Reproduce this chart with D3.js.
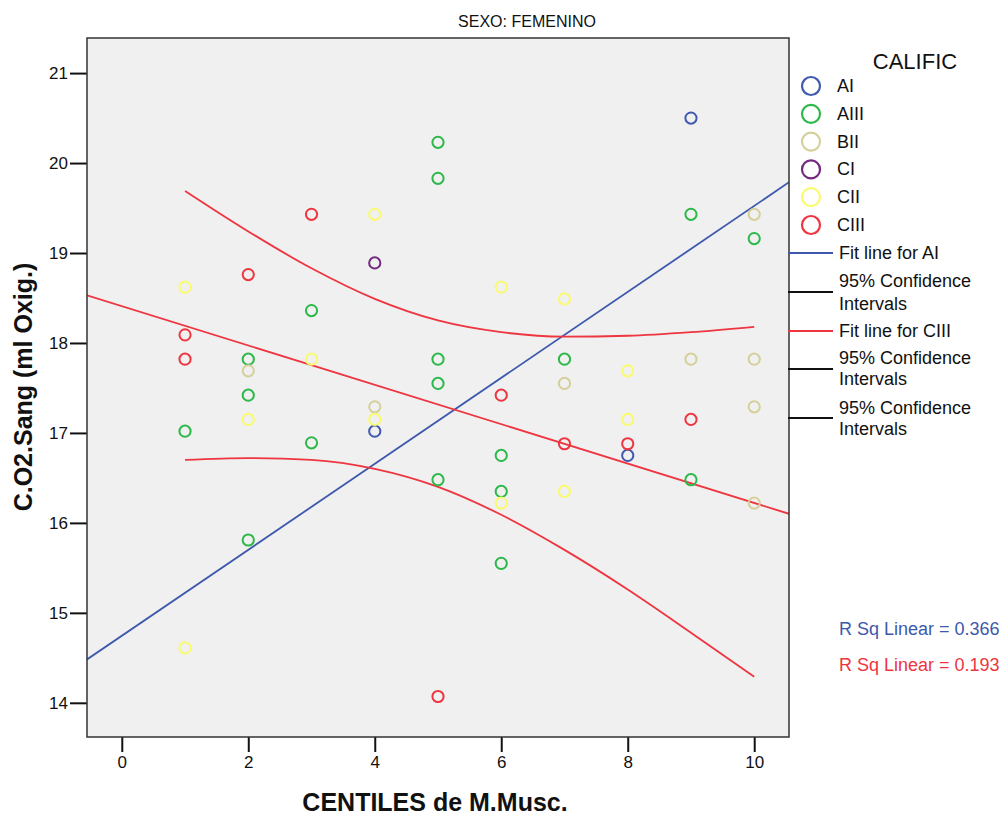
<!DOCTYPE html>
<html>
<head>
<meta charset="utf-8">
<script src="https://cdn.jsdelivr.net/npm/d3@7"></script>
<style>
  body { margin: 0; background: #fff; }
  text { font-family: Arial, "Liberation Sans", sans-serif; fill: #111; }
</style>
</head>
<body>
<svg width="1007" height="818"></svg>
<script>
// points per CALIFIC group: centile (x) and C.O2.Sang (y)
const groups = ["AI", "AIII", "BII", "CI", "CII", "CIII"];
const groupColors = ["#3f5ab0", "#2db84a", "#d5cf9a", "#74287f", "#fafa6e", "#ee3540"];

const aiX = [4, 8, 9];
const aiY = [17.02, 16.75, 20.50];
const aiiiX = [1, 2, 2, 2, 3, 3, 5, 5, 5, 5, 5, 6, 6, 6, 7, 9, 9, 10];
const aiiiY = [17.02, 17.82, 17.42, 15.81, 18.36, 16.89, 20.23, 19.83, 17.82, 17.55, 16.48, 16.75, 16.35, 15.55, 17.82, 19.43, 16.48, 19.16];
const biiX = [2, 4, 7, 9, 10, 10, 10, 10];
const biiY = [17.69, 17.29, 17.55, 17.82, 19.43, 17.82, 17.29, 16.22];
const ciX = [4];
const ciY = [18.89];
const ciiX = [1, 1, 2, 3, 4, 4, 6, 6, 7, 7, 8, 8];
const ciiY = [18.62, 14.61, 17.15, 17.82, 19.43, 17.15, 18.62, 16.22, 18.49, 16.35, 17.69, 17.15];
const ciiiX = [1, 1, 2, 3, 5, 6, 7, 8, 9];
const ciiiY = [18.09, 17.82, 18.76, 19.43, 14.07, 17.42, 16.88, 16.88, 17.15];

// 95% confidence band of the CIII fit
const bandX = [1, 2, 3, 4, 5, 6, 7, 8, 9, 10];
const bandUpper = [19.69, 19.24, 18.83, 18.49, 18.25, 18.12, 18.07, 18.08, 18.12, 18.18];
const bandLower = [16.70, 16.72, 16.70, 16.60, 16.40, 16.09, 15.70, 15.26, 14.78, 14.29];

const xTicks = [0, 2, 4, 6, 8, 10];
const yTicks = [14, 15, 16, 17, 18, 19, 20, 21];
const rSqLabels = ["0.366", "0.193"];

const groupX = [aiX, aiiiX, biiX, ciX, ciiX, ciiiX];
const groupY = [aiY, aiiiY, biiY, ciY, ciiY, ciiiY];

const svg = d3.select("svg");
const plotL = 87, plotR = 789, plotT = 38, plotB = 737;

const x = d3.scaleLinear().domain([-0.55, 10.55]).range([plotL, plotR]);
const y = d3.scaleLinear().domain([13.62, 21.39]).range([plotB, plotT]);

svg.append("defs").append("clipPath").attr("id", "plotclip")
  .append("rect")
  .attr("x", plotL).attr("y", plotT)
  .attr("width", plotR - plotL).attr("height", plotB - plotT);

svg.append("rect")
  .attr("x", plotL).attr("y", plotT)
  .attr("width", plotR - plotL).attr("height", plotB - plotT)
  .attr("fill", "#f0f0f0");

// axes
const xAxis = svg.append("g")
  .attr("transform", `translate(0,${plotB})`)
  .call(d3.axisBottom(x).tickValues(xTicks).tickSize(15).tickPadding(4));
const yAxis = svg.append("g")
  .attr("transform", `translate(${plotL},0)`)
  .call(d3.axisLeft(y).tickValues(yTicks).tickSize(17).tickPadding(2));

[xAxis, yAxis].forEach(a => {
  a.select(".domain").remove();
  a.selectAll(".tick line").attr("stroke", "#111").attr("stroke-width", 2);
  a.selectAll(".tick text")
    .attr("font-size", "17px")
    .attr("font-family", "Arial, 'Liberation Sans', sans-serif")
    .attr("fill", "#111");
});

// least squares fit from the points
function fit(xs, ys) {
  const mx = d3.mean(xs), my = d3.mean(ys);
  const sxy = d3.sum(xs, (v, i) => (v - mx) * (ys[i] - my));
  const sxx = d3.sum(xs, v => (v - mx) ** 2);
  const b = sxy / sxx;
  return { a: my - b * mx, b: b };
}

const plot = svg.append("g").attr("clip-path", "url(#plotclip)");

const line = d3.line().x(d => x(d[0])).y(d => y(d[1]));

const fits = [
  { f: fit(aiX, aiY), color: "#3d58ac" },
  { f: fit(ciiiX, ciiiY), color: "#ee3540" }
];

fits.forEach(d => {
  const ends = x.domain().map(v => [v, d.f.a + d.f.b * v]);
  plot.append("path")
    .attr("d", line(ends))
    .attr("fill", "none")
    .attr("stroke", d.color)
    .attr("stroke-width", 1.8);
});

const bandLine = d3.line()
  .x(d => x(d[0])).y(d => y(d[1]))
  .curve(d3.curveMonotoneX);

[bandUpper, bandLower].forEach(vals => {
  plot.append("path")
    .attr("d", bandLine(bandX.map((v, i) => [v, vals[i]])))
    .attr("fill", "none")
    .attr("stroke", "#ee3540")
    .attr("stroke-width", 1.8);
});

// points
groups.forEach((g, gi) => {
  plot.selectAll(null)
    .data(groupX[gi].map((v, i) => [v, groupY[gi][i]]))
    .enter()
    .append("circle")
    .attr("cx", d => x(d[0]))
    .attr("cy", d => y(d[1]))
    .attr("r", 5.6)
    .attr("fill", "none")
    .attr("stroke", groupColors[gi])
    .attr("stroke-width", 2);
});

// frame
svg.append("path")
  .attr("d", `M${plotL},${plotT}H${plotR}V${plotB}H${plotL}Z`)
  .attr("fill", "none")
  .attr("stroke", "#333")
  .attr("stroke-width", 1.5);

// titles
svg.append("text")
  .attr("x", 527).attr("y", 27)
  .attr("text-anchor", "middle")
  .attr("font-size", "16px")
  .text("SEXO: FEMENINO");

svg.append("text")
  .attr("x", 435).attr("y", 811)
  .attr("text-anchor", "middle")
  .attr("font-size", "25px")
  .attr("font-weight", "bold")
  .text("CENTILES de M.Musc.");

svg.append("text")
  .attr("transform", "translate(32,387) rotate(-90)")
  .attr("text-anchor", "middle")
  .attr("font-size", "25px")
  .attr("font-weight", "bold")
  .text("C.O2.Sang (ml Oxig.)");

// legend
const legend = svg.append("g");
legend.append("text")
  .attr("x", 915).attr("y", 69)
  .attr("text-anchor", "middle")
  .attr("font-size", "22px")
  .text("CALIFIC");

groups.forEach((g, i) => {
  const cy = 86 + i * 27.8;
  legend.append("circle")
    .attr("cx", 811).attr("cy", cy).attr("r", 9)
    .attr("fill", "none")
    .attr("stroke", groupColors[i])
    .attr("stroke-width", 2.2);
  legend.append("text")
    .attr("x", 837).attr("y", cy + 6)
    .attr("font-size", "18px")
    .text(g);
});

const lineItems = [
  { y: 253, color: "#3d58ac", lines: ["Fit line for AI"], ty: [259] },
  { y: 292, color: "#111", lines: ["95% Confidence", "Intervals"], ty: [287, 310] },
  { y: 331, color: "#ee3540", lines: ["Fit line for CIII"], ty: [337] },
  { y: 369, color: "#111", lines: ["95% Confidence", "Intervals"], ty: [364, 385] },
  { y: 418, color: "#111", lines: ["95% Confidence", "Intervals"], ty: [414, 435] }
];

lineItems.forEach(d => {
  legend.append("line")
    .attr("x1", 788).attr("x2", 833)
    .attr("y1", d.y).attr("y2", d.y)
    .attr("stroke", d.color)
    .attr("stroke-width", 2);
  d.lines.forEach((t, i) => {
    legend.append("text")
      .attr("x", 839).attr("y", d.ty[i])
      .attr("font-size", "18px")
      .text(t);
  });
});

svg.append("text")
  .attr("x", 839).attr("y", 635)
  .attr("font-size", "18px")
  .style("fill", "#3d58ac")
  .text(`R Sq Linear = ${rSqLabels[0]}`);
svg.append("text")
  .attr("x", 839).attr("y", 671)
  .attr("font-size", "18px")
  .style("fill", "#ee3540")
  .text(`R Sq Linear = ${rSqLabels[1]}`);
</script>
</body>
</html>
